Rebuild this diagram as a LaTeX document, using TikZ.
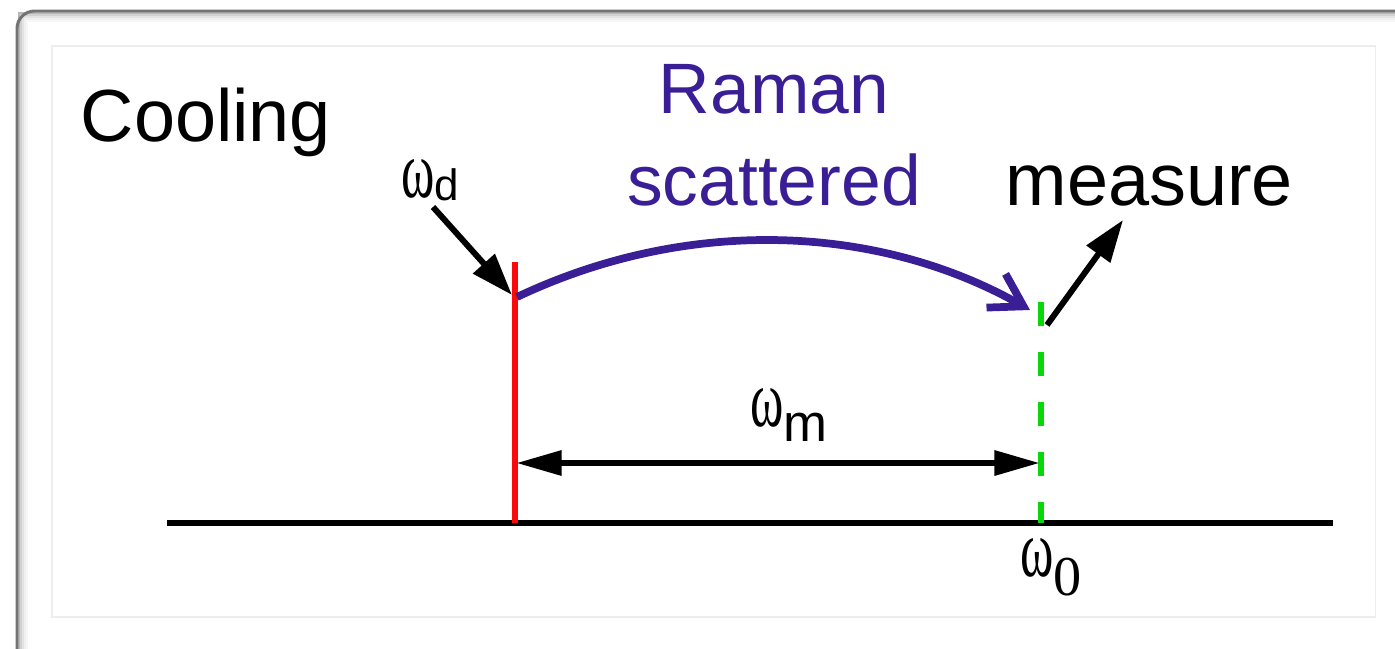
\documentclass[tikz,border=0pt]{standalone}
\usepackage{fontspec}
\setmainfont{Liberation Sans}
\newfontfamily\grkfont{Liberation Serif}
\newfontfamily\subfont{Liberation Sans}
\usepackage{xcolor}
\usepackage{graphicx}
\usetikzlibrary{arrows.meta}
\definecolor{ramanblue}{RGB}{58,30,150}
\definecolor{drivered}{RGB}{250,10,10}
\definecolor{cavgreen}{RGB}{10,215,10}
\newcommand{\omglyph}{\scalebox{0.8}[1.28]{ω}}

\begin{document}
\begin{tikzpicture}[x=0.01cm,y=-0.01cm,
  lbl/.style={inner sep=0pt,font=\fontsize{21}{26}\selectfont},
  omega/.style={inner sep=0pt,font=\grkfont\fontsize{18}{18}\selectfont},
  ptr/.style={line width=1.7pt,-{Triangle[length=12pt,width=8pt]}},
  span/.style={line width=1.9pt,{Triangle[length=13pt,width=6.8pt]}-{Triangle[length=13pt,width=6.8pt]}}]
  \useasboundingbox (0,0) rectangle (1395,648);
  \clip (0,0) rectangle (1395,648);
  % frame
  \foreach \i/\c in {2/28,4/18,6/11,8/6,10/3}
    \draw[black!\c,line width=0.57pt] ({17+\i},700) |- (1450,{11+\i});
  \draw[black!55,line width=0.85pt,rounded corners=5pt] (17,700) |- (1450,11);
  \draw[black!7,line width=0.3pt] (52,46) rectangle (1375,617);
  % axis and lines
  \coordinate (axl) at (167,523);
  \coordinate (axr) at (1333,523);
  \coordinate (dtop) at (515,262);
  \coordinate (dbot) at (515,523);
  \coordinate (mtop) at (1041,302);
  \coordinate (mbot) at (1041,523);
  \draw[line width=1.75pt] (axl) -- (axr);
  \draw[drivered,line width=1.6pt] (dtop) -- (dbot);
  \draw[cavgreen,line width=1.8pt,dash pattern=on 6.8pt off 7.4pt] (mtop) -- (mbot);
  % labels
  \node[lbl,anchor=base west] (cooling) at (80,141) {Cooling};
  \node[lbl,ramanblue,align=center,anchor=base,font=\fontsize{20.3}{26}\selectfont] (raman) at (774,205) {Raman\\scattered};
  \node[lbl,anchor=base west] (measure) at (1005,205) {measure};
  \node[omega] (wd) at (430,180) {\omglyph\raisebox{-0.05em}{\subfont\fontsize{12.5}{12.5}\selectfont d}};
  \node[omega] (wm) at (789,415) {\omglyph\raisebox{-0.25em}{\subfont\fontsize{15}{15}\selectfont m}};
  \node[omega] (w0) at (1051,567) {\omglyph\raisebox{-0.3em}{\fontsize{16}{16}\selectfont 0}};
  % arrows
  \coordinate (dtail) at (433,207);
  \coordinate (dhit) at (512,295);
  \coordinate (rstart) at (517,297);
  \coordinate (rend) at (1030,310);
  \coordinate (mtail) at (1047,325);
  \coordinate (mhead) at (1123,220);
  \coordinate (gapl) at (516,463);
  \coordinate (gapr) at (1040,463);
  \draw[ptr] (dtail) -- (dhit);
  \draw[ptr] (mtail) -- (mhead);
  \draw[span] (gapl) -- (gapr);
  \draw[ramanblue,line width=2.2pt,-{Straight Barb[length=9pt,width=11pt]}]
    (rstart) .. controls (690,215) and (880,225) .. (rend);
\end{tikzpicture}
\end{document}
